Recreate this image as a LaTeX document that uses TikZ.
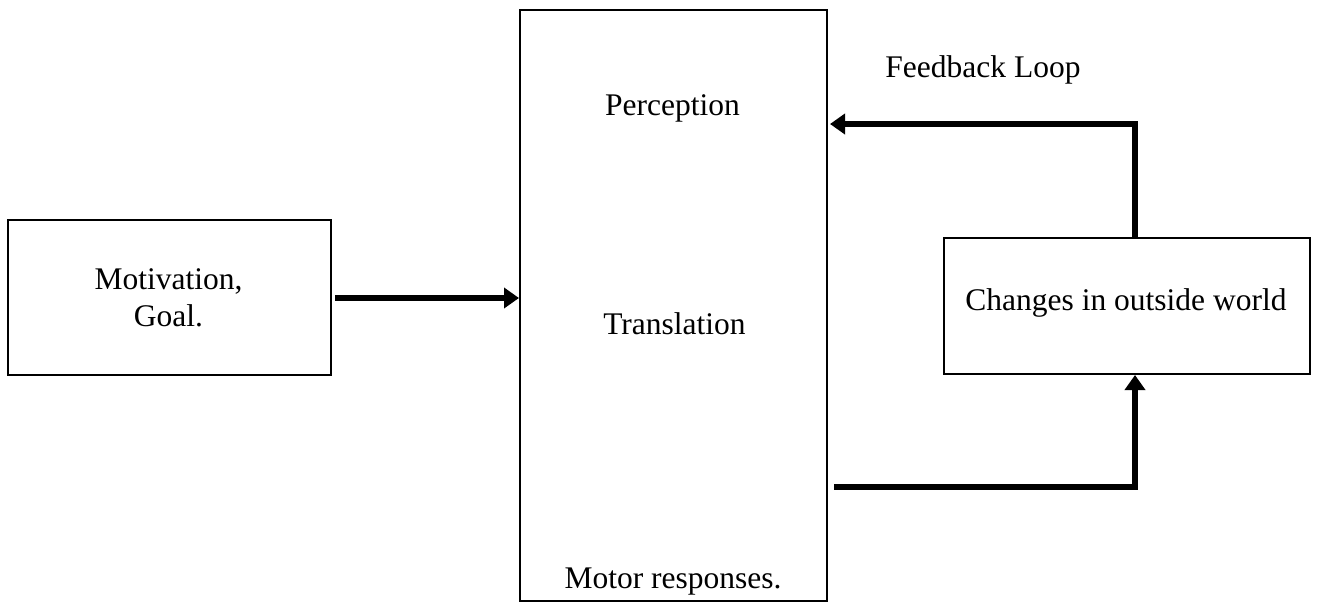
\documentclass[tikz,border=0pt]{standalone}
\usepackage{fontspec}
\setmainfont{Liberation Serif}
\usetikzlibrary{arrows.meta}
\begin{document}
\begin{tikzpicture}[x=1pt,y=-1pt,
  box/.style={draw,line width=2pt,rectangle,inner sep=0pt,anchor=north west},
  lbl/.style={font=\fontsize{31.5}{37}\selectfont,inner sep=0pt,align=center},
  arr/.style={line width=6pt,-{Triangle[length=15pt,width=20pt]}}]
\useasboundingbox (0,0) rectangle (1320,603);
\node[box,minimum width=323pt,minimum height=155pt] (lb) at (7,219) {};
\node[box,minimum width=307pt,minimum height=591pt] (cb) at (519,9) {};
\node[box,minimum width=366pt,minimum height=136pt] (rb) at (943,237) {};
\node[lbl] (mot) at (168.5,298) {Motivation,\\Goal.};
\node[lbl,anchor=base] (per) at (672.5,115) {Perception};
\node[lbl,anchor=base] (tra) at (674.5,334) {Translation};
\node[lbl,anchor=base] (mr) at (673,588) {Motor responses.};
\node[lbl,anchor=base] (chg) at (1126,310) {Changes in outside world};
\node[lbl,anchor=base] (fb) at (983,77) {Feedback Loop};
\coordinate (ya) at (0,298);
\coordinate (yf) at (0,124);
\coordinate (yb) at (0,487);
\coordinate (xv) at (1135,0);
\draw[arr] ([xshift=3pt]lb.east |- ya) -- (cb.west |- ya);
\draw[arr] (xv |- rb.north) |- ([xshift=2pt]cb.east |- yf);
\draw[arr] ([xshift=6pt]cb.east |- yb) -| (xv |- rb.south);
\end{tikzpicture}
\end{document}
